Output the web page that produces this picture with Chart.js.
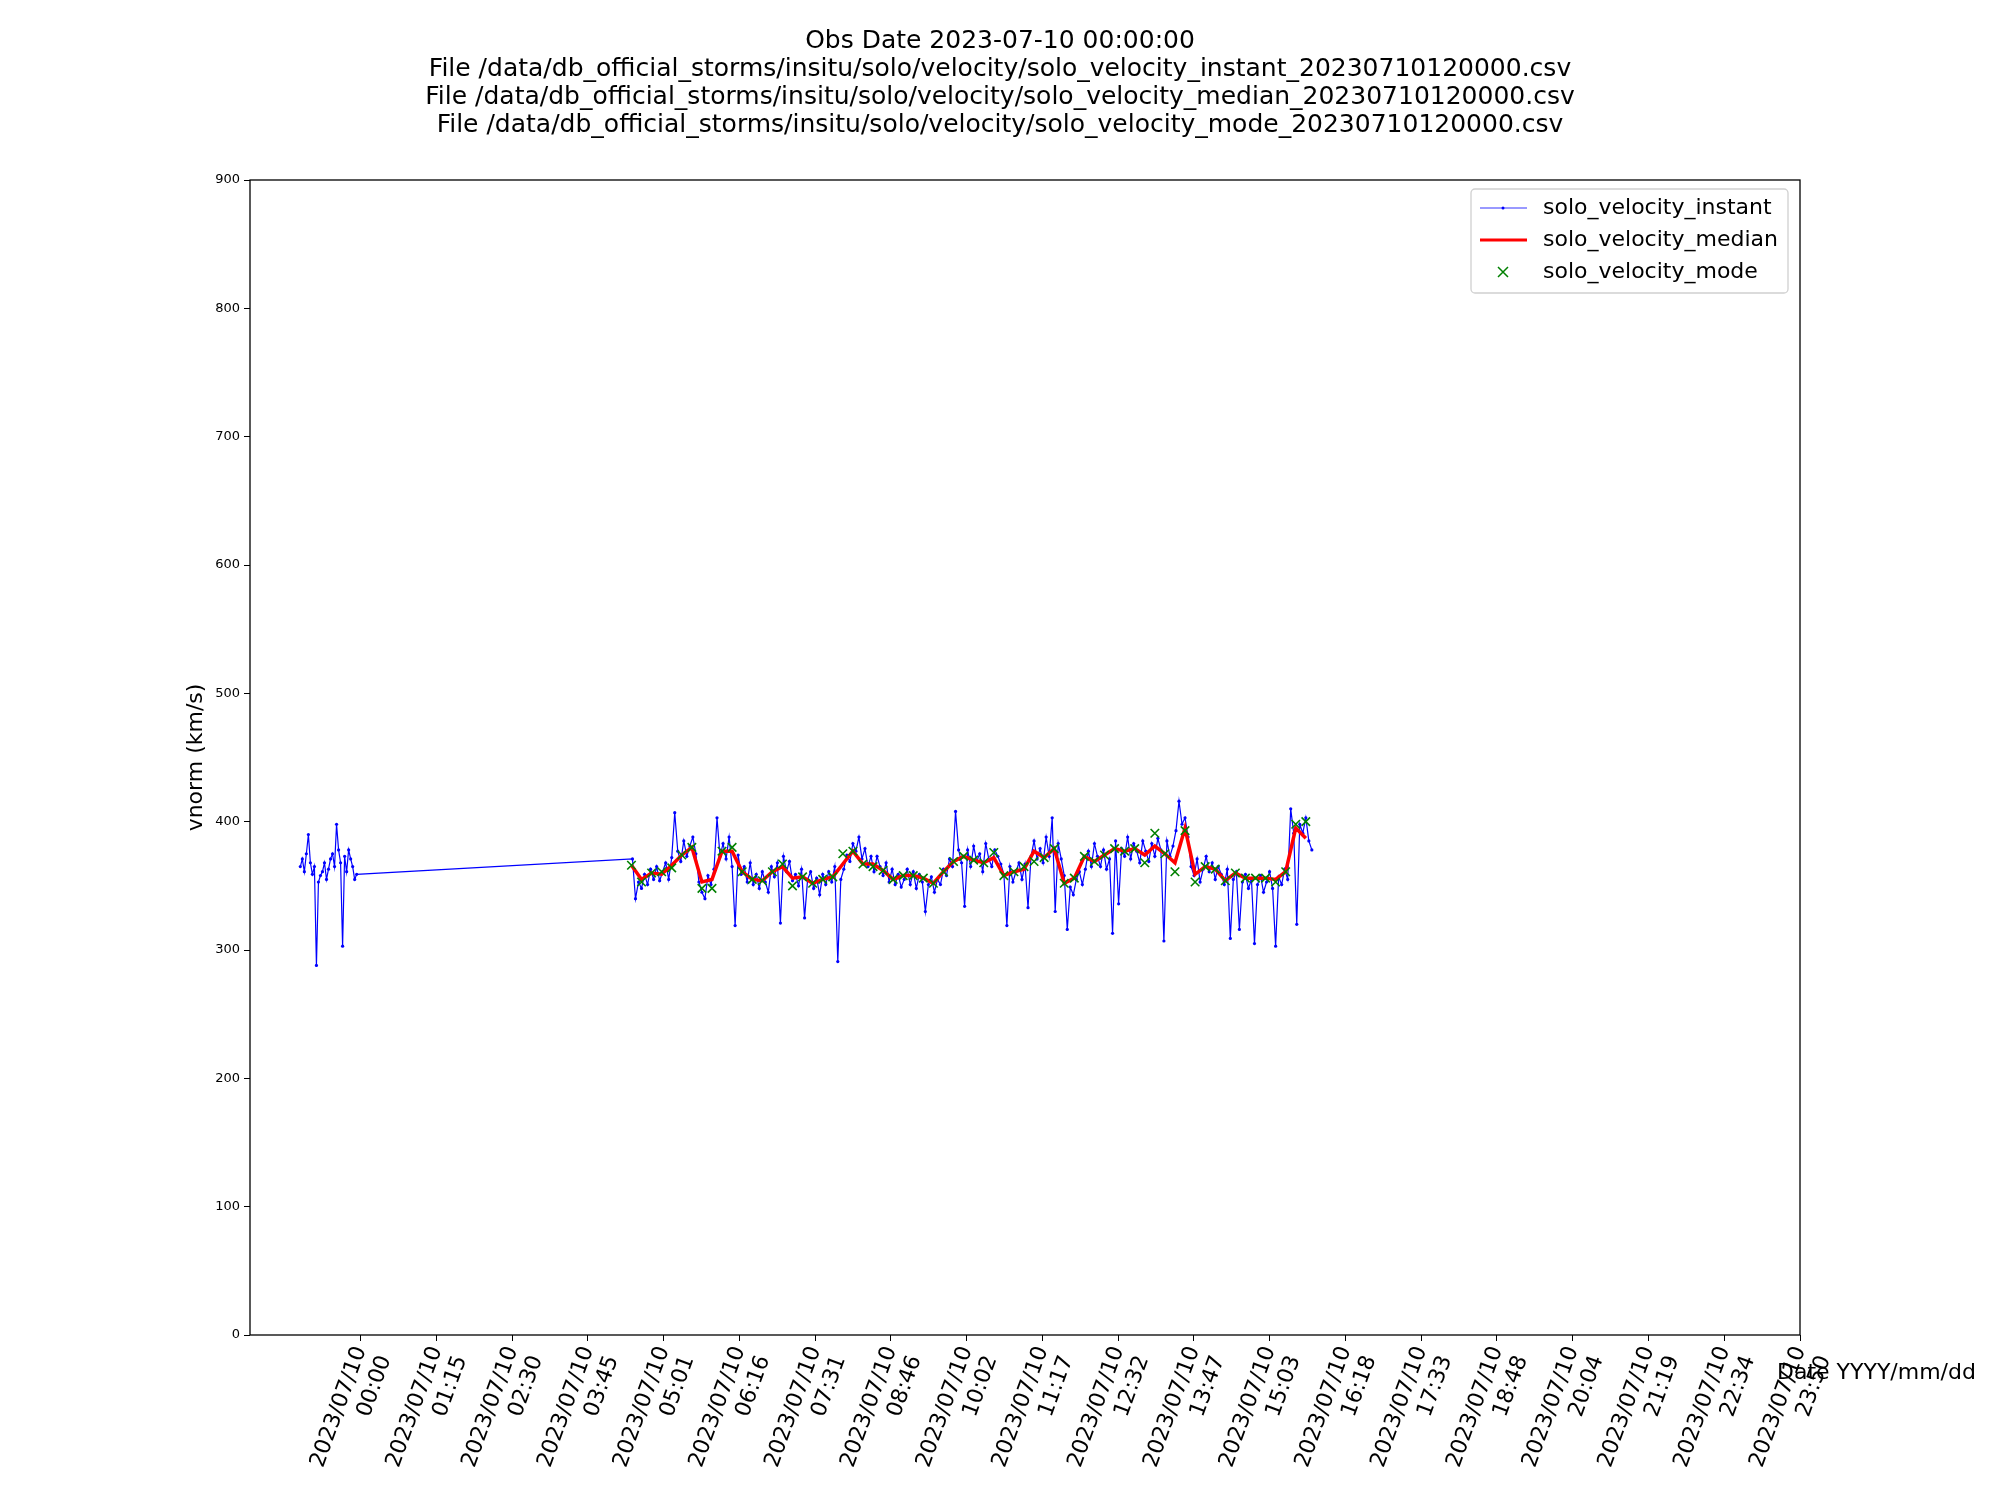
<!DOCTYPE html>
<html>
<head>
<meta charset="utf-8">
<script src="https://cdn.jsdelivr.net/npm/chart.js@4.4.0/dist/chart.umd.min.js"></script>
<style>
  html, body { margin: 0; padding: 0; background: #fff; }
</style>
</head>
<body>
<canvas id="velocityChart" width="2000" height="1500"></canvas>
<script>
"use strict";

// Titles
const titleLines = [
    'Obs Date 2023-07-10 00:00:00',
    'File /data/db_official_storms/insitu/solo/velocity/solo_velocity_instant_20230710120000.csv',
    'File /data/db_official_storms/insitu/solo/velocity/solo_velocity_median_20230710120000.csv',
    'File /data/db_official_storms/insitu/solo/velocity/solo_velocity_mode_20230710120000.csv'
];
const seriesNames = ['solo_velocity_instant', 'solo_velocity_median', 'solo_velocity_mode'];

// x is minutes from 2023-07-10 00:00
const xMin = -110;
const xMax = 1430;
const yTicks = [0, 100, 200, 300, 400, 500, 600, 700, 800, 900];
const xTickCount = 20;

// instant, first block (2 min cadence)
const instantStartA = -60;
const instantStepA = 2;
const instantA = [365, 371, 361, 375, 390, 368, 359, 365, 288, 353, 358, 361, 368, 355, 363,
    371, 375, 365, 398, 378, 368, 303, 373, 361, 378, 371, 365, 355, 359];

// instant, second block (3 min cadence)
const instantStartB = 270;
const instantStepB = 3;
const instantB = [
    371, 340, 353, 348, 359, 351, 363, 355, 365, 354,
    361, 368, 355, 372, 407, 377, 369, 385, 373, 381,
    388, 375, 353, 345, 340, 358, 351, 363, 403, 373,
    383, 371, 388, 365, 319, 374, 359, 365, 353, 368,
    351, 359, 348, 361, 353, 345, 365, 357, 368, 321,
    373, 361, 369, 354, 359, 350, 363, 325, 355, 361,
    348, 356, 343, 359, 351, 361, 353, 365, 291, 355,
    363, 374, 369, 383, 377, 388, 371, 379, 365, 373,
    361, 373, 365, 358, 368, 353, 363, 351, 359, 349,
    355, 363, 351, 361, 348, 359, 353, 330, 351, 357,
    345, 355, 351, 363, 358, 371, 365, 408, 378, 368,
    334, 378, 365, 381, 369, 375, 361, 383, 371, 365,
    378, 373, 367, 359, 319, 365, 353, 361, 368, 355,
    367, 333, 373, 385, 371, 379, 368, 388, 373, 403,
    330, 383, 371, 358, 316, 349, 343, 355, 361, 351,
    363, 377, 365, 383, 373, 365, 378, 363, 371, 313,
    385, 336, 379, 373, 388, 371, 383, 377, 368, 385,
    377, 369, 383, 373, 387, 378, 307, 385, 373, 381,
    393, 416, 398, 403, 388, 365, 358, 371, 353, 363,
    373, 361, 368, 355, 365, 359, 351, 363, 309, 355,
    361, 316, 353, 359, 348, 355, 305, 351, 358, 345,
    353, 361, 348, 303, 357, 351, 363, 355, 410, 391,
    320, 398, 391, 403, 385, 378
];

// median and mode (about 10 min cadence)
const medianStart = 269;
const medianStep = 10;
const medianValues = [
    366, 355, 360, 359, 366, 374, 380, 353, 355, 377, 377, 361, 355, 354, 361, 365, 356, 357,
    352, 355, 357, 367, 377, 367, 367, 362, 355, 358, 358, 356, 352, 361, 369, 373, 370,
    368, 372, 358, 361, 363, 377, 372, 379, 352, 356, 373, 369, 374, 379, 377, 379, 374,
    381, 375, 368, 395, 359, 365, 363, 354, 360, 356, 356, 356, 355, 361, 395, 387
];
const modeValues = [
    366, 353, 360, 361, 364, 374, 380, 348, 348, 377, 380, 361, 355, 354, 361, 367, 350, 357,
    352, 355, 357, 375, 377, 367, 365, 362, 355, 358, 358, 356, 352, 361, 369, 373, 370,
    368, 376, 358, 361, 365, 369, 372, 379, 352, 356, 373, 369, 374, 379, 377, 379, 368,
    391, 375, 361, 393, 353, 365, 363, 354, 360, 356, 356, 356, 353, 361, 398, 400
];

const FONT = 'DejaVu Sans';

const toPoints = (start, step, values) => values.map((v, i) => ({x: start + i * step, y: v}));

const instantData = toPoints(instantStartA, instantStepA, instantA)
    .concat(toPoints(instantStartB, instantStepB, instantB));

const xTickValues = [];
for (let i = 0; i < xTickCount; i++) {
    xTickValues.push(xMax * i / (xTickCount - 1));
}
const fmtTime = (m) => {
    const t = Math.floor(m + 1e-6);
    const hh = String(Math.floor(t / 60)).padStart(2, '0');
    const mm = String(t % 60).padStart(2, '0');
    return hh + ':' + mm;
};

// titles, frame, axis labels and legend drawn on top
const decorations = {
    id: 'decorations',
    afterDraw(chart) {
        const ctx = chart.ctx;
        const area = chart.chartArea;
        ctx.save();
        ctx.fillStyle = '#000';
        ctx.font = '25px ' + FONT;
        ctx.textAlign = 'center';
        ctx.textBaseline = 'middle';
        titleLines.forEach((line, i) => {
            ctx.fillText(line, 1000, 41 + i * 28.3);
        });

        ctx.strokeStyle = '#000';
        ctx.lineWidth = 1.3;
        ctx.strokeRect(area.left, area.top, area.right - area.left, area.bottom - area.top);

        ctx.font = '22px ' + FONT;
        ctx.textAlign = 'left';
        ctx.fillText('Date YYYY/mm/dd', 1777, 1373);

        ctx.save();
        ctx.translate(196, (area.top + area.bottom) / 2);
        ctx.rotate(-Math.PI / 2);
        ctx.textAlign = 'center';
        ctx.fillText('vnorm (km/s)', 0, 0);
        ctx.restore();

        // legend
        const lx = 1471, ly = 189, lw = 317, lh = 104;
        ctx.fillStyle = 'rgba(255,255,255,0.8)';
        ctx.strokeStyle = '#d0d0d0';
        ctx.lineWidth = 1.3;
        ctx.beginPath();
        ctx.roundRect(lx, ly, lw, lh, 4);
        ctx.fill();
        ctx.stroke();
        const ds = chart.data.datasets;
        const rows = [208, 240, 272];
        ds.forEach((d, i) => {
            const y = rows[i];
            if (i === 0) {
                ctx.strokeStyle = d.borderColor;
                ctx.lineWidth = 0.8;
                ctx.beginPath();
                ctx.moveTo(1480, y);
                ctx.lineTo(1527, y);
                ctx.stroke();
                ctx.fillStyle = d.borderColor;
                ctx.beginPath();
                ctx.arc(1503, y, 1.5, 0, Math.PI * 2);
                ctx.fill();
            } else if (i === 1) {
                ctx.strokeStyle = d.borderColor;
                ctx.lineWidth = 3;
                ctx.beginPath();
                ctx.moveTo(1480, y);
                ctx.lineTo(1527, y);
                ctx.stroke();
            } else {
                ctx.strokeStyle = d.pointBorderColor;
                ctx.lineWidth = 1.5;
                ctx.beginPath();
                ctx.moveTo(1498, y - 5); ctx.lineTo(1508, y + 5);
                ctx.moveTo(1508, y - 5); ctx.lineTo(1498, y + 5);
                ctx.stroke();
            }
            ctx.fillStyle = '#000';
            ctx.fillText(d.label, 1543, y);
        });
        ctx.restore();
    }
};

const chart = new Chart(document.getElementById('velocityChart'), {
    type: 'scatter',
    data: {
        datasets: [
            {
                label: seriesNames[0],
                data: instantData,
                showLine: true,
                borderColor: '#0000ff',
                backgroundColor: '#0000ff',
                borderWidth: 1.2,
                pointRadius: 1.6,
                pointBorderWidth: 0,
                order: 3
            },
            {
                label: seriesNames[1],
                data: toPoints(medianStart, medianStep, medianValues),
                showLine: true,
                borderColor: '#ff0000',
                backgroundColor: '#ff0000',
                borderWidth: 3.5,
                pointRadius: 0,
                order: 2
            },
            {
                label: seriesNames[2],
                data: toPoints(medianStart, medianStep, modeValues),
                showLine: false,
                pointStyle: 'crossRot',
                pointRadius: 6,
                pointBorderColor: '#008000',
                pointBorderWidth: 1.6,
                borderColor: '#008000',
                order: 1
            }
        ]
    },
    options: {
        responsive: false,
        devicePixelRatio: 1,
        animation: false,
        layout: {padding: {top: 180, right: 200, left: 0, bottom: 0}},
        plugins: {legend: {display: false}, tooltip: {enabled: false}},
        scales: {
            x: {
                type: 'linear',
                min: xMin,
                max: xMax,
                afterBuildTicks: (scale) => {
                    scale.ticks = xTickValues.map(v => ({value: v}));
                },
                afterFit: (scale) => { scale.height = 165; },
                grid: {display: true, drawOnChartArea: false, drawTicks: true, tickLength: 6, color: '#000'},
                border: {display: false},
                ticks: {
                    autoSkip: false,
                    minRotation: 70,
                    maxRotation: 70,
                    color: '#000',
                    font: {family: FONT, size: 22},
                    padding: 2,
                    callback: (v) => ['2023/07/10', fmtTime(v)]
                }
            },
            y: {
                min: 0,
                max: 900,
                afterBuildTicks: (scale) => {
                    scale.ticks = yTicks.map(v => ({value: v}));
                },
                afterFit: (scale) => { scale.width = 250; },
                grid: {display: true, drawOnChartArea: false, drawTicks: true, tickLength: 6, color: '#000'},
                border: {display: false},
                ticks: {color: '#000', font: {family: FONT, size: 13}, padding: 4}
            }
        }
    },
    plugins: [decorations]
});
</script>
</body>
</html>
